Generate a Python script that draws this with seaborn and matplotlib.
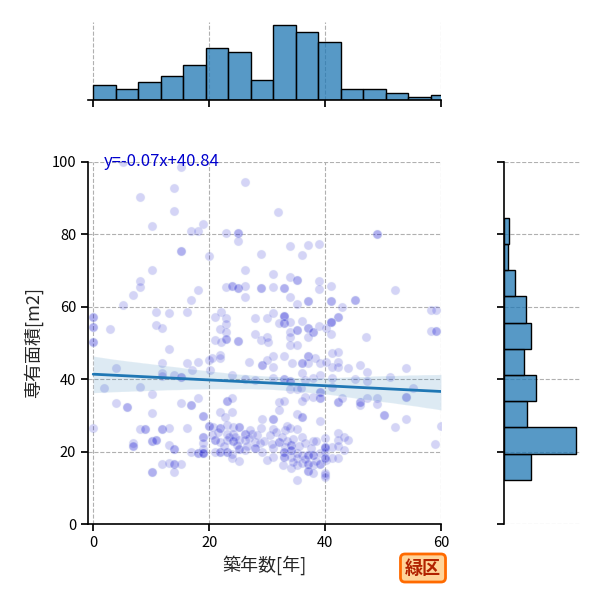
import numpy as np
import pandas as pd
import matplotlib
matplotlib.use("Agg")
import matplotlib.pyplot as plt
import seaborn as sns

# ---- scatter data (building age [years], floor area [m2]) ----
points = [
    (5.1,100.0),(15.1,98.5),(13.9,92.8),(8.0,90.2),(13.9,86.5),(10.1,82.3),(19.0,82.9),(16.9,80.9),(18.0,80.9),
    (15.1,75.3),(15.1,75.3),(19.9,74.0),(10.1,70.3),(8.0,67.1),(8.0,65.4),(6.9,63.3),(18.0,64.6),(16.9,61.8),
    (5.1,60.5),(10.9,58.7),(13.0,58.4),(16.1,58.7),(10.9,55.0),(11.9,54.2),(2.9,53.9),(0,57.1),(0,57.1),
    (0,54.3),(0,54.3),(0,50.4),(0,50.4),
    (26.1,94.4),(31.9,86.1),(22.9,80.3),(25.0,80.3),(25.0,80.3),(25.0,78.1),(34.0,76.8),(37.1,77.2),(39.0,77.4),
    (36.1,74.3),(29.0,74.6),(26.1,70.3),(31.1,69.1),(34.0,68.1),(35.1,67.3),(35.1,67.3),(39.0,67.1),(39.0,64.8),
    (22.9,65.5),(24.0,65.7),(24.0,65.7),(25.0,65.1),(25.0,65.1),(26.1,65.7),(26.1,62.6),(29.0,65.1),(29.0,65.1),
    (31.1,65.5),(33.0,65.3),(33.0,65.3),(34.0,62.6),(35.1,60.9),(37.1,61.6),(37.1,61.6),
    (22.0,58.7),(21.0,57.3),(22.9,56.8),(22.9,55.2),(21.9,53.9),(22.9,53.1),(21.0,50.8),(22.0,50.4),(22.9,51.0),
    (22.9,51.0),(25.0,50.6),(25.0,50.6),(27.9,56.8),(30.0,57.0),(31.1,58.3),(33.0,57.5),(33.0,57.5),(33.0,57.5),
    (33.0,55.4),(33.0,55.4),(32.0,55.4),(34.0,55.7),(36.1,56.2),(34.0,53.1),(35.1,53.6),(35.1,53.6),(34.0,51.7),
    (37.1,54.2),(37.1,54.2),(38.0,53.1),(38.0,53.1),(39.0,54.7),(37.1,51.7),(27.9,52.4),(29.0,50.8),(30.0,51.7),
    (49.0,80.0),(49.0,80.0),(41.0,65.7),(52.1,64.6),(41.0,61.6),(41.0,61.6),(45.1,61.8),(45.1,61.8),(43.0,59.9),
    (42.2,57.1),(42.2,57.1),(41.0,55.9),(41.0,55.9),(41.0,55.9),(40.1,54.2),(41.0,52.4),(47.1,51.7),(58.2,59.0),
    (59.1,59.0),(58.2,53.2),(59.1,53.2),(59.1,53.2),
    (13.0,48.3),(11.9,44.4),(16.1,44.4),(18.0,44.8),(19.9,45.3),(4.0,43.1),(17.0,42.5),(11.9,41.6),(11.9,40.9),
    (14.0,41.2),(15.1,40.7),(15.1,40.7),(1.9,37.5),(8.0,37.8),(10.1,35.9),(4.0,33.5),(5.9,32.2),(5.9,32.2),
    (15.1,33.5),(16.9,32.8),(16.9,32.8),(18.0,34.7),(10.1,30.7),(19.0,29.9),(19.0,29.9),(0,26.4),(8.0,26.2),
    (9.0,26.2),(9.0,26.2),(11.9,26.2),(11.9,26.2),(13.0,26.6),(16.1,26.4),(6.9,22.3),(6.9,21.5),(6.9,21.5),
    (10.1,22.9),(10.1,22.9),(10.9,23.2),(10.9,23.2),(13.0,21.7),(14.0,20.7),(14.0,20.7),(16.9,20.0),(18.0,19.7),
    (18.0,19.7),(19.0,19.7),(19.0,19.7),(19.0,19.7),(19.0,20.7),(19.0,24.0),(19.0,24.0),(19.0,22.3),(19.9,27.1),
    (19.9,27.1),(11.9,16.5),(13.0,16.8),(14.0,16.5),(14.0,16.5),(15.1,16.5),(10.1,14.3),(10.1,14.3),(14.0,14.3),
    (30.2,50.3),(34.0,49.4),(35.1,49.4),(21.9,46.7),(20.5,45.8),(21.9,45.8),(26.8,44.8),(29.1,43.9),(29.1,43.9),
    (31.1,46.4),(33.0,46.4),(34.3,44.6),(37.1,46.4),(37.1,46.4),(38.3,45.8),(37.1,44.4),(39.1,44.6),(36.1,44.6),
    (36.1,44.6),(36.1,41.8),(30.0,45.3),(31.1,43.5),(20.2,42.5),(23.9,41.2),(26.2,40.0),(27.9,39.8),(31.1,40.2),
    (33.0,40.0),(33.0,40.0),(34.0,39.6),(34.0,39.6),(36.6,39.8),(38.0,40.2),(39.1,41.2),(34.0,37.2),(35.1,37.2),
    (35.8,37.7),(39.1,36.5),(39.1,36.5),(39.1,34.7),(39.1,34.7),(38.0,35.2),(36.6,35.2),(36.1,34.0),(23.0,34.0),
    (23.0,34.0),(23.9,34.7),(32.0,33.8),(33.0,34.0),(32.0,31.5),(21.9,31.0),(23.9,31.0),(22.8,29.6),(29.1,29.0),
    (31.1,29.0),(31.1,29.0),(35.1,30.4),(36.1,29.6),(36.1,29.6),(39.1,28.5),(31.1,26.2),(33.1,26.0),(34.0,26.4),
    (35.1,26.2),(36.0,24.1),(38.0,22.9),
    (20.7,26.7),(21.9,26.4),(21.9,26.4),(23.0,27.3),(24.2,26.9),(25.1,26.7),(25.1,26.7),(26.1,25.0),(26.1,25.0),
    (27.4,25.0),(23.0,24.9),(24.2,25.0),(21.0,23.2),(21.0,23.2),(21.9,22.7),(23.0,23.2),(24.2,22.9),(24.2,22.9),
    (25.1,23.2),(26.2,23.2),(27.9,22.7),(28.8,22.3),(27.9,20.9),(27.9,20.9),(21.0,20.0),(21.9,19.8),(21.9,19.8),
    (23.0,19.8),(23.0,19.8),(25.1,20.6),(25.1,20.6),(26.2,20.4),(24.0,19.3),(24.0,18.1),(25.1,17.5),(29.1,20.0),
    (31.1,20.9),(32.0,22.7),(32.0,22.7),(33.1,21.4),(34.1,21.8),(34.1,21.8),(34.1,20.4),(34.1,20.4),(33.0,20.0),
    (33.0,20.0),(33.0,18.6),(33.0,18.6),(34.1,18.4),(35.1,19.5),(35.1,18.1),(36.1,19.1),(37.1,19.1),(37.1,19.1),
    (38.0,19.1),(38.0,19.1),(39.1,19.5),(40.0,20.0),(32.8,16.3),(34.1,15.4),(35.1,16.3),(36.1,16.8),(37.1,16.6),
    (37.1,16.6),(38.0,16.3),(39.1,16.5),(39.1,16.5),(40.1,17.7),(37.1,14.7),(37.1,14.7),(38.0,14.0),(35.1,12.2),
    (40.0,20.9),(40.0,13.5),(31.1,18.6),(29.9,17.7),
    (22.5,21.5),(23.5,24.0),(24.8,21.8),(26.8,23.8),(27.0,26.0),(28.2,24.5),(29.5,23.0),(30.5,24.5),(30.8,22.0),
    (31.5,25.5),(32.5,24.0),(33.5,23.0),(34.5,23.5),(35.5,21.5),(36.5,22.5),(37.5,21.0),(38.5,23.0),(36.5,18.0),
    (38.5,17.5),(34.5,17.0),(20.5,24.5),(21.5,25.5),(24.5,24.0),(26.5,21.5),(29.0,26.5),(33.5,27.0),
    (41.2,47.3),(42.2,47.6),(42.2,44.8),(42.2,43.3),(41.2,43.3),(40.2,44.8),(44.0,43.0),(46.0,43.9),(47.2,41.9),
    (41.2,40.2),(45.1,40.0),(47.2,39.6),(51.2,40.7),(54.0,43.0),(55.1,37.5),(41.2,37.9),(42.2,33.8),(42.2,33.8),
    (42.9,34.7),(46.0,33.8),(46.0,33.8),(46.0,32.9),(47.2,34.7),(49.0,34.7),(49.0,33.1),(50.1,30.1),(50.1,30.1),
    (54.0,35.2),(54.0,35.2),(54.0,28.9),(52.1,26.7),(60.0,27.1),(59.0,22.1),(42.2,25.2),(42.2,23.2),(43.2,24.1),
    (44.0,23.2),(41.2,21.4),(42.2,21.5),(43.2,20.4),(41.2,18.1),(42.2,18.1),(40.0,23.7),(40.0,21.2),(40.0,21.2),
    (40.0,18.1),(40.0,18.1),(40.0,14.0),(40.0,13.1),
]
building_age = [p[0] for p in points]
floor_area = [p[1] for p in points]

# ---- marginal histogram counts ----
age_bin_start = 0.0
age_bin_width = 3.88
age_counts = [11, 8, 13, 18, 26, 38, 35, 15, 55, 50, 43, 8, 8, 5, 2, 4]

area_bin_start = 12.2
area_bin_width = 7.24
area_counts = [37, 101, 32, 44, 28, 37, 31, 16, 6, 7]

fit_label = "y=-0.07x+40.84"
ward_label = "緑区"
x_label = "築年数[年]"
y_label = "専有面積[m2]"

sns.set_theme(style="ticks", rc={
    "axes.grid": True,
    "grid.linestyle": "--",
    "grid.color": "#b0b0b0",
    "grid.linewidth": 0.8,
    "axes.edgecolor": "black",
    "axes.linewidth": 1.2,
    "xtick.color": "black",
    "ytick.color": "black",
    "xtick.major.size": 5,
    "ytick.major.size": 5,
})
plt.rcParams["font.family"] = ["Noto Sans CJK JP", "DejaVu Sans"]

df = pd.DataFrame({"age": building_age, "area": floor_area})

g = sns.JointGrid(data=df, x="age", y="area", height=6)
fig = g.figure
fig.set_size_inches(6, 6)

sns.regplot(data=df, x="age", y="area", ax=g.ax_joint, seed=0,
            scatter_kws=dict(s=40, color="mediumblue", alpha=0.17,
                             edgecolor="#dde6f5", linewidths=1),
            line_kws=dict(color="#1f77b4", linewidth=2))

age_edges = [age_bin_start + i * age_bin_width for i in range(len(age_counts) + 1)]
age_centers = [(a + b) / 2 for a, b in zip(age_edges[:-1], age_edges[1:])]
sns.histplot(x=age_centers, weights=age_counts, bins=age_edges, ax=g.ax_marg_x,
             color="#1f77b4", alpha=0.75, edgecolor="black", linewidth=1)

area_edges = [area_bin_start + i * area_bin_width for i in range(len(area_counts) + 1)]
area_centers = [(a + b) / 2 for a, b in zip(area_edges[:-1], area_edges[1:])]
sns.histplot(y=area_centers, weights=area_counts, bins=area_edges, ax=g.ax_marg_y,
             color="#1f77b4", alpha=0.75, edgecolor="black", linewidth=1)

ax = g.ax_joint
ax.set_xlim(-0.9, 60)
ax.set_ylim(0, 100)
ax.set_xticks([0, 20, 40, 60])
ax.set_yticks([0, 20, 40, 60, 80, 100])
ax.tick_params(labelsize=10.5)
ax.set_xlabel(x_label, fontsize=13)
ax.set_ylabel(y_label, fontsize=13, labelpad=6)
g.ax_marg_x.set_xlabel("")
g.ax_marg_x.set_ylabel("")
g.ax_marg_y.set_xlabel("")
g.ax_marg_y.set_ylabel("")

ax.text(1.9, 100, fit_label, color="mediumblue", fontsize=12, ha="left", va="center")

# layout (figure fractions)
ax.set_position([88/600, 76/600, 353/600, 362/600])
g.ax_marg_x.set_position([88/600, 500/600, 353/600, 78.5/600])
g.ax_marg_y.set_position([504/600, 76/600, 76/600, 362/600])

fig.text(423/600, 1 - 568/600, ward_label, fontsize=13, fontweight="bold",
         color="#b22200", ha="center", va="center",
         bbox=dict(boxstyle="round,pad=0.25", facecolor="#ffd49a",
                   edgecolor="#ff6a00", linewidth=2))

fig.savefig("out.png", dpi=100)
